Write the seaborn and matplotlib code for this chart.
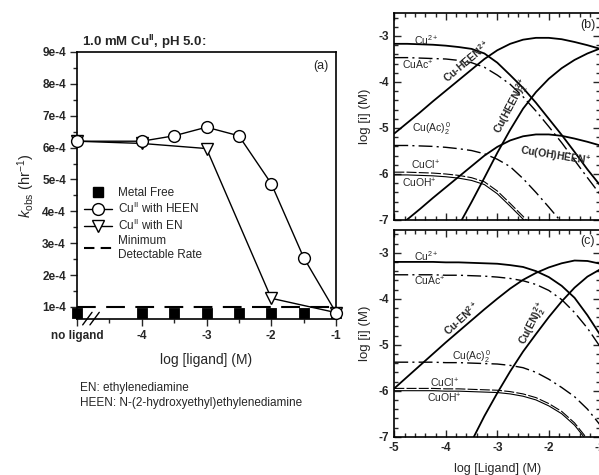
import numpy as np
import pandas as pd
import matplotlib
matplotlib.use("Agg")
import matplotlib.pyplot as plt
import seaborn as sns
from matplotlib.lines import Line2D
from matplotlib.ticker import MultipleLocator, FixedLocator, FixedFormatter

sns.set_theme(style="ticks")
plt.rcParams['font.family'] = ['Liberation Sans', 'DejaVu Sans']
plt.rcParams['axes.unicode_minus'] = False
plt.rcParams['mathtext.fontset'] = 'custom'
plt.rcParams['mathtext.rm'] = 'Liberation Sans'
plt.rcParams['mathtext.it'] = 'Liberation Sans:italic'
plt.rcParams['mathtext.bf'] = 'Liberation Sans:bold'

# ---------------- Panel (a) data ----------------
x_metal_free = [-5, -4, -3.5, -3, -2.5, -2, -1.5, -1]
k_metal_free = [0.82e-4, 0.82e-4, 0.82e-4, 0.82e-4, 0.82e-4, 0.82e-4, 0.82e-4, 0.82e-4]
x_heen = [-5, -4, -3.5, -3, -2.5, -2, -1.5, -1]
k_heen = [6.2e-4, 6.2e-4, 6.37e-4, 6.64e-4, 6.37e-4, 4.87e-4, 2.55e-4, 0.82e-4]
x_en = [-5, -4, -3, -2, -1]
k_en = [6.2e-4, 6.13e-4, 5.97e-4, 1.27e-4, 0.82e-4]
min_rate = 1e-4
a_xticks = [-5, -4, -3, -2, -1]
a_xticklabels = ["no ligand", "-4", "-3", "-2", "-1"]
a_yticks = [1e-4, 2e-4, 3e-4, 4e-4, 5e-4, 6e-4, 7e-4, 8e-4, 9e-4]
a_yticklabels = ["1e-4", "2e-4", "3e-4", "4e-4", "5e-4", "6e-4", "7e-4", "8e-4", "9e-4"]

# ---------------- Panels (b), (c) data ----------------
log_lig = [-5, -4.75, -4.5, -4.25, -4, -3.75, -3.5, -3.25, -3, -2.75, -2.5, -2.25, -2, -1.75, -1.5, -1.25, -1]

cu_b      = [-3.17, -3.17, -3.18, -3.19, -3.21, -3.24, -3.28, -3.38, -3.58, -3.85, -4.13, -4.45, -4.80, -5.15, -5.52, -5.90, -6.25]
cuac_b    = [-3.47, -3.47, -3.48, -3.49, -3.50, -3.53, -3.58, -3.68, -3.85, -4.05, -4.32, -4.63, -4.97, -5.32, -5.70, -6.08, -6.45]
cuac2_b   = [-5.38, -5.38, -5.39, -5.40, -5.42, -5.45, -5.49, -5.56, -5.68, -5.84, -6.10, -6.40, -6.72, -7.05, -7.40, -7.75, -8.10]
cucl_b    = [-5.96, -5.96, -5.97, -5.98, -6.00, -6.03, -6.08, -6.17, -6.37, -6.64, -6.92, -7.24, -7.60, -7.95, -8.30, -8.70, -9.00]
cuoh_b    = [-6.02, -6.02, -6.03, -6.04, -6.06, -6.09, -6.14, -6.23, -6.43, -6.70, -6.98, -7.30, -7.66, -8.00, -8.40, -8.75, -9.10]
cuheen_b  = [-5.12, -4.89, -4.66, -4.42, -4.19, -3.96, -3.73, -3.50, -3.31, -3.17, -3.08, -3.04, -3.04, -3.07, -3.13, -3.20, -3.28]
cuheen2_b = [-9.63, -9.13, -8.63, -8.13, -7.63, -7.12, -6.61, -6.08, -5.54, -5.04, -4.58, -4.22, -3.93, -3.70, -3.52, -3.38, -3.27]
cuohheen_b = [-7.22, -6.99, -6.76, -6.52, -6.29, -6.06, -5.83, -5.60, -5.41, -5.27, -5.18, -5.14, -5.14, -5.17, -5.23, -5.30, -5.38]

cu_c     = [-3.20, -3.20, -3.20, -3.20, -3.21, -3.21, -3.22, -3.23, -3.24, -3.27, -3.31, -3.40, -3.53, -3.72, -3.98, -4.36, -4.79]
cuac_c   = [-3.48, -3.48, -3.48, -3.48, -3.49, -3.49, -3.50, -3.51, -3.53, -3.56, -3.61, -3.69, -3.82, -4.02, -4.30, -4.64, -5.05]
cuac2_c  = [-5.38, -5.38, -5.38, -5.38, -5.39, -5.39, -5.40, -5.41, -5.42, -5.45, -5.50, -5.60, -5.75, -5.93, -6.13, -6.40, -6.75]
cucl_c   = [-5.95, -5.95, -5.95, -5.95, -5.96, -5.96, -5.97, -5.98, -5.99, -6.02, -6.07, -6.15, -6.28, -6.45, -6.70, -7.05, -7.50]
cuoh_c   = [-6.00, -6.00, -6.00, -6.00, -6.01, -6.01, -6.02, -6.03, -6.04, -6.07, -6.12, -6.20, -6.33, -6.50, -6.75, -7.10, -7.55]
cuen_c   = [-5.95, -5.70, -5.45, -5.20, -4.95, -4.71, -4.47, -4.23, -4.00, -3.78, -3.59, -3.44, -3.32, -3.23, -3.17, -3.18, -3.24]
cuen2_c  = [-10.1, -9.6, -9.1, -8.6, -8.1, -7.6, -7.1, -6.55, -6.05, -5.58, -5.15, -4.77, -4.40, -4.06, -3.76, -3.52, -3.36]

W, H = 599, 475
fig = plt.figure(figsize=(W / 100, H / 100), dpi=100)
fig.patch.set_facecolor("white")

def rect(l, t, r, b):
    return [l / W, 1 - b / H, (r - l) / W, (b - t) / H]

# ================= Panel (a) =================
ax = fig.add_axes(rect(77, 52, 336, 319))
dfa_mf = pd.DataFrame({"x": x_metal_free, "k": k_metal_free})
dfa_h = pd.DataFrame({"x": x_heen, "k": k_heen})
dfa_e = pd.DataFrame({"x": x_en, "k": k_en})

ax.axhline(min_rate, color="black", lw=1.5, dashes=(9, 5), zorder=2)
sns.lineplot(data=dfa_e, x="x", y="k", ax=ax, color="black", lw=1.0,
             marker="v", markersize=8.5, markerfacecolor="white",
             markeredgecolor="black", markeredgewidth=1.0, clip_on=False, zorder=4)
sns.lineplot(data=dfa_h, x="x", y="k", ax=ax, color="black", lw=1.0,
             marker="o", markersize=8.5, markerfacecolor="white",
             markeredgecolor="black", markeredgewidth=1.0, clip_on=False, zorder=5)
sns.scatterplot(data=dfa_mf, x="x", y="k", ax=ax, marker="s", s=55,
                color="black", edgecolor="black", clip_on=False, zorder=3)

ax.set_xlim(-5, -1)
ax.set_ylim(0.62e-4, 9.0e-4)
ax.xaxis.set_major_locator(FixedLocator(a_xticks))
ax.xaxis.set_major_formatter(FixedFormatter(a_xticklabels))
ax.xaxis.set_minor_locator(FixedLocator([-4.5, -3.5, -2.5, -1.5]))
ax.yaxis.set_major_locator(FixedLocator(a_yticks))
ax.yaxis.set_major_formatter(FixedFormatter(a_yticklabels))
ax.yaxis.set_minor_locator(MultipleLocator(0.5e-4))
ax.tick_params(axis="both", which="major", direction="out", length=5, width=1,
               labelsize=8.5, top=False, right=False, pad=3)
ax.tick_params(axis="both", which="minor", direction="out", length=3, width=1,
               top=False, right=False)
for lab in ax.get_xticklabels() + ax.get_yticklabels():
    lab.set_fontweight("bold")
for s in ax.spines.values():
    s.set_linewidth(1.2)
    s.set_color("black")
ax.set_xlabel("log [ligand] (M)", fontsize=10, labelpad=8)
ax.set_ylabel(r"$k_{\mathrm{obs}}$ (hr$^{-1}$)", fontsize=10.5, labelpad=4)
ax.text(0.97, 0.97, "(a)", transform=ax.transAxes, ha="right", va="top", fontsize=9)

# axis break marks
for dx in (0.0, 0.028):
    ax.plot([0.022 + dx, 0.058 + dx], [-0.022, 0.025], transform=ax.transAxes,
            color="black", lw=1.0, clip_on=False, zorder=6)

handles = [
    Line2D([], [], color="black", marker="s", linestyle="none", markersize=7),
    Line2D([], [], color="black", lw=1.0, marker="o", markersize=8.5,
           markerfacecolor="white", markeredgecolor="black"),
    Line2D([], [], color="black", lw=1.0, marker="v", markersize=8.5,
           markerfacecolor="white", markeredgecolor="black"),
    Line2D([], [], color="black", lw=1.5, dashes=(5, 3)),
]
labels = ["Metal Free", r"Cu$^{\mathrm{II}}$ with HEEN", r"Cu$^{\mathrm{II}}$ with EN",
          "Minimum\nDetectable Rate"]
ax.legend(handles, labels, loc="upper left", bbox_to_anchor=(0.0, 0.52),
          frameon=False, fontsize=8.5, handlelength=2.4, handletextpad=0.5,
          labelspacing=0.15, borderaxespad=0.2)

fig.text(82 / W, 1 - 46 / H, r"1.0 mM Cu$^{\mathbf{II}}$, pH 5.0:", fontsize=9.5,
         fontweight="bold", ha="left", va="baseline")
fig.text(80 / W, 1 - 388 / H, "EN: ethylenediamine", fontsize=8.5, ha="left", va="center")
fig.text(80 / W, 1 - 403 / H, "HEEN: N-(2-hydroxyethyl)ethylenediamine", fontsize=8.5,
         ha="left", va="center")

# ================= Panels (b), (c) =================
dashdot = (0, (10, 3, 1.5, 3))
longdash = (0, (9, 2))

def spec_line(axx, y, ls="-", lw=1.3):
    d = pd.DataFrame({"x": log_lig, "y": y})
    sns.lineplot(data=d, x="x", y="y", ax=axx, color="black", lw=lw, linestyle=ls,
                 sort=False)

def style_spec(axx, show_x):
    axx.set_xlim(-5, -1)
    axx.set_ylim(-7, -2.5)
    axx.xaxis.set_major_locator(MultipleLocator(1))
    axx.xaxis.set_minor_locator(MultipleLocator(0.2))
    axx.yaxis.set_major_locator(FixedLocator([-7, -6, -5, -4, -3]))
    axx.yaxis.set_minor_locator(MultipleLocator(0.2))
    axx.tick_params(axis="both", which="major", direction="in", length=5, width=1,
                    top=True, right=True, labelsize=8.5, pad=4)
    axx.tick_params(axis="both", which="minor", direction="in", length=3, width=1,
                    top=True, right=True)
    for lab in axx.get_xticklabels() + axx.get_yticklabels():
        lab.set_fontweight("bold")
    if not show_x:
        axx.tick_params(axis="x", labelbottom=False)
        axx.set_xlabel("")
    for s in axx.spines.values():
        s.set_linewidth(1.2)
        s.set_color("black")
    axx.set_ylabel("log [i] (M)", fontsize=9.5, labelpad=5)

axb = fig.add_axes(rect(394.3, 13, 600.3, 220))
spec_line(axb, cu_b)
spec_line(axb, cuac_b, dashdot, 1.0)
spec_line(axb, cuac2_b, dashdot, 1.0)
spec_line(axb, cucl_b, longdash, 0.8)
spec_line(axb, cuoh_b, "-", 0.8)
spec_line(axb, cuheen_b)
spec_line(axb, cuheen2_b)
spec_line(axb, cuohheen_b)
style_spec(axb, False)

fs = 7.5
axb.text(-4.62, -3.09, r"Cu$^{2+}$", fontsize=fs, va="center", ha="left")
axb.text(-4.85, -3.64, r"CuAc$^{+}$", fontsize=fs, va="center", ha="left")
axb.text(-3.59, -3.56, r"Cu-HEEN$^{\mathbf{2+}}$", fontsize=fs, fontweight="bold",
         rotation=40, ha="center", va="center")
axb.text(-2.72, -4.52, r"Cu(HEEN)$_{\mathbf{2}}^{\mathbf{2+}}$", fontsize=fs,
         fontweight="bold", rotation=62, ha="center", va="center")
axb.text(-4.65, -5.01, r"Cu(Ac)$_2^{\,0}$", fontsize=fs, va="center", ha="left")
axb.text(-4.68, -5.81, r"CuCl$^{+}$", fontsize=fs, va="center", ha="left")
axb.text(-4.85, -6.2, r"CuOH$^{+}$", fontsize=fs, va="center", ha="left")
axb.text(-1.88, -5.6, r"Cu(OH)HEEN$^{\mathbf{+}}$", fontsize=fs, fontweight="bold",
         rotation=-9, ha="center", va="center")
axb.text(-1.1, -2.62, "(b)", fontsize=9, ha="right", va="top")

axc = fig.add_axes(rect(394.3, 229.7, 600.3, 436.7))
spec_line(axc, cu_c)
spec_line(axc, cuac_c, dashdot, 1.0)
spec_line(axc, cuac2_c, dashdot, 1.0)
spec_line(axc, cucl_c, longdash, 0.8)
spec_line(axc, cuoh_c, "-", 0.8)
spec_line(axc, cuen_c)
spec_line(axc, cuen2_c)
style_spec(axc, True)
axc.set_xlabel("log [Ligand] (M)", fontsize=9, labelpad=6)

axc.text(-4.62, -3.07, r"Cu$^{2+}$", fontsize=fs, va="center", ha="left")
axc.text(-4.62, -3.63, r"CuAc$^{+}$", fontsize=fs, va="center", ha="left")
axc.text(-3.69, -4.43, r"Cu-EN$^{\mathbf{2+}}$", fontsize=fs, fontweight="bold",
         rotation=42, ha="center", va="center")
axc.text(-2.3, -4.54, r"Cu(EN)$_{\mathbf{2}}^{\mathbf{2+}}$", fontsize=fs,
         fontweight="bold", rotation=63, ha="center", va="center")
axc.text(-3.5, -5.25, r"Cu(Ac)$_2^{\,0}$", fontsize=fs, va="center", ha="center")
axc.text(-4.02, -5.83, r"CuCl$^{+}$", fontsize=fs, va="center", ha="center")
axc.text(-4.02, -6.17, r"CuOH$^{+}$", fontsize=fs, va="center", ha="center")
axc.text(-1.1, -2.62, "(c)", fontsize=9, ha="right", va="top")

fig.savefig("out.png", dpi=100, facecolor="white")
